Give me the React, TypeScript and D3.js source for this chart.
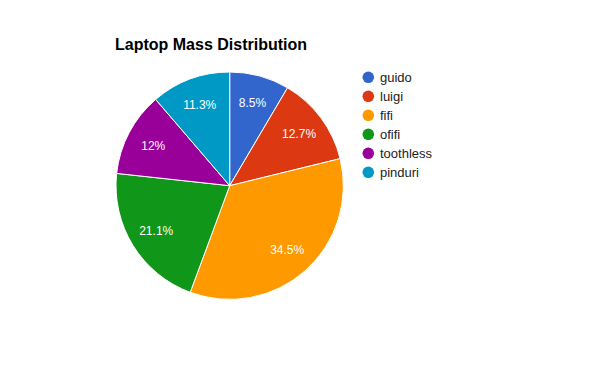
import React, { useEffect, useRef } from "react";
import * as d3 from "d3";

const categories = ["guido", "luigi", "fifi", "ofifi", "toothless", "pinduri"];
const values = [8.5, 12.7, 34.5, 21.1, 12, 11.3];
const colors = ["#3366cc", "#dc3912", "#ff9900", "#109618", "#990099", "#0099c6"];
const title = "Laptop Mass Distribution";

export default function App() {
  const ref = useRef<SVGSVGElement>(null);

  useEffect(() => {
    const svg = d3.select(ref.current).html("");
    const width = 600;
    const height = 371;
    const cx = 229.7;
    const cy = 185.7;
    const r = 113.7;

    svg.append("rect").attr("width", width).attr("height", height).attr("fill", "#ffffff");

    svg.append("text")
      .attr("x", 115)
      .attr("y", 50)
      .attr("font-family", "Arial, 'Liberation Sans'")
      .attr("font-size", 16)
      .attr("font-weight", "bold")
      .attr("fill", "#000")
      .text(title);

    const data = categories.map((c, i) => ({ name: c, value: values[i], color: colors[i] }));
    const pie = d3.pie<any>().value(d => d.value).sort(null);
    const arcs = pie(data);
    const arc = d3.arc<any>().innerRadius(0).outerRadius(r);
    const labelArc = d3.arc<any>().innerRadius(r * 0.76).outerRadius(r * 0.76);

    const g = svg.append("g").attr("transform", `translate(${cx},${cy})`);

    g.selectAll("path")
      .data(arcs)
      .join("path")
      .attr("d", arc)
      .attr("fill", d => d.data.color)
      .attr("stroke", "#ffffff")
      .attr("stroke-width", 1);

    g.selectAll("text")
      .data(arcs)
      .join("text")
      .attr("transform", d => `translate(${labelArc.centroid(d)})`)
      .attr("text-anchor", "middle")
      .attr("dy", "0.35em")
      .attr("font-family", "Arial, 'Liberation Sans'")
      .attr("font-size", 12)
      .attr("fill", "#ffffff")
      .text(d => `${d.data.value}%`);

    const legend = svg.append("g").attr("transform", "translate(368.3,77.3)");
    const item = legend.selectAll("g")
      .data(data)
      .join("g")
      .attr("transform", (d, i) => `translate(0,${i * 19})`);
    item.append("circle").attr("r", 5.8).attr("fill", d => d.color);
    item.append("text")
      .attr("x", 11.7)
      .attr("dy", "0.36em")
      .attr("font-family", "Arial, 'Liberation Sans'")
      .attr("font-size", 13)
      .attr("fill", "#222222")
      .text(d => d.name);
  }, []);

  return (
    <svg ref={ref} width={600} height={371} style={{ position: "absolute", left: 0, top: 0 }} />
  );
}
